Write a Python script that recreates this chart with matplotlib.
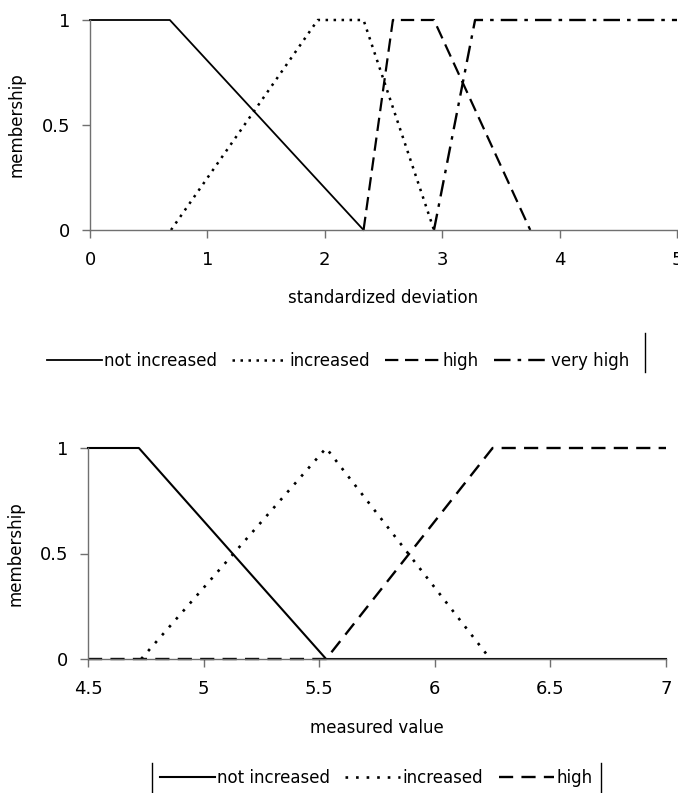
import matplotlib
matplotlib.use("Agg")
import matplotlib.pyplot as plt
from matplotlib.lines import Line2D

# top chart: standardized deviation
top_labels = ["not increased", "increased", "high", "very high"]
top_x = [
    [0, 0.68, 2.33],
    [0.69, 1.94, 2.33, 2.93],
    [2.33, 2.58, 2.93, 3.75],
    [2.93, 3.28, 5.0],
]
top_y = [
    [1, 1, 0],
    [0, 1, 1, 0],
    [0, 1, 1, 0],
    [0, 1, 1],
]
top_xticks = [0, 1, 2, 3, 4, 5]

# bottom chart: measured value
bot_labels = ["not increased", "increased", "high"]
bot_x = [
    [4.5, 4.72, 5.53, 7.0],
    [4.73, 5.53, 6.24],
    [4.5, 5.53, 6.25, 7.0],
]
bot_y = [
    [1, 1, 0, 0],
    [0, 1, 0],
    [0, 0, 1, 1],
]
bot_xticks = [4.5, 5, 5.5, 6, 6.5, 7]
yticks = [0, 0.5, 1]

top_styles = [
    dict(ls="-", lw=1.3),
    dict(ls=(0, (1, 2.2)), lw=1.8),
    dict(ls=(0, (6, 3)), lw=1.6),
    dict(ls=(0, (7, 3, 1.5, 3)), lw=1.7),
]
bot_styles = [
    dict(ls="-", lw=1.5),
    dict(ls=(0, (1, 3)), lw=1.9),
    dict(ls=(0, (6, 3.5)), lw=1.7),
]

W, H = 678, 793
fig = plt.figure(figsize=(W / 100, H / 100), dpi=100)
plt.rcParams["font.family"] = ["DejaVu Sans"]


def style_axes(ax, xticks, xlabel):
    for s in ["top", "right"]:
        ax.spines[s].set_visible(False)
    for s in ["left", "bottom"]:
        ax.spines[s].set_color("#707070")
        ax.spines[s].set_linewidth(1.0)
    ax.set_yticks(yticks)
    ax.set_yticklabels(["0", "0.5", "1"])
    ax.set_xticks(xticks)
    ax.set_xticklabels([("%g" % v) for v in xticks])
    ax.tick_params(axis="both", colors="#707070", labelcolor="black",
                   labelsize=13, length=6, width=1)
    ax.tick_params(axis="x", pad=9)
    ax.tick_params(axis="y", pad=8)
    ax.set_ylim(0, 1)
    ax.set_xlim(xticks[0], xticks[-1])
    ax.set_ylabel("membership", fontsize=12)
    ax.set_xlabel(xlabel, fontsize=12)


# top axes
ax1 = fig.add_axes([90 / W, 1 - 230 / H, 587 / W, 210 / H])
handles = []
for xs, ys, st, lab in zip(top_x, top_y, top_styles, top_labels):
    h, = ax1.plot(xs, ys, color="black", clip_on=False, label=lab, **st)
    handles.append(h)
style_axes(ax1, top_xticks, "standardized deviation")
ax1.yaxis.set_label_coords(-0.11, 0.5)
ax1.xaxis.set_label_coords(0.5, -0.281)
fig.legend(handles, top_labels, loc="center", bbox_to_anchor=(338 / W, 1 - 361 / H),
           ncol=4, frameon=False, fontsize=12, handlelength=3.3, handletextpad=0.15,
           columnspacing=0.9)
fig.add_artist(Line2D([645 / W, 645 / W], [1 - 333 / H, 1 - 372 / H],
                      transform=fig.transFigure, color="black", lw=1))

# bottom axes
ax2 = fig.add_axes([88 / W, 1 - 659 / H, 578 / W, 211 / H])
handles = []
for xs, ys, st, lab in zip(bot_x, bot_y, bot_styles, bot_labels):
    h, = ax2.plot(xs, ys, color="black", clip_on=False, label=lab, **st)
    handles.append(h)
style_axes(ax2, bot_xticks, "measured value")
ax2.yaxis.set_label_coords(-0.11, 0.5)
ax2.xaxis.set_label_coords(0.5, -0.284)
fig.legend(handles, bot_labels, loc="center", bbox_to_anchor=(376 / W, 1 - 778 / H),
           ncol=3, frameon=False, fontsize=12, handlelength=3.3, handletextpad=0.15,
           columnspacing=0.9)
for xb in [152, 601]:
    fig.add_artist(Line2D([xb / W, xb / W], [1 - 763 / H, 0],
                          transform=fig.transFigure, color="black", lw=1))

fig.savefig("out.png", dpi=100)
